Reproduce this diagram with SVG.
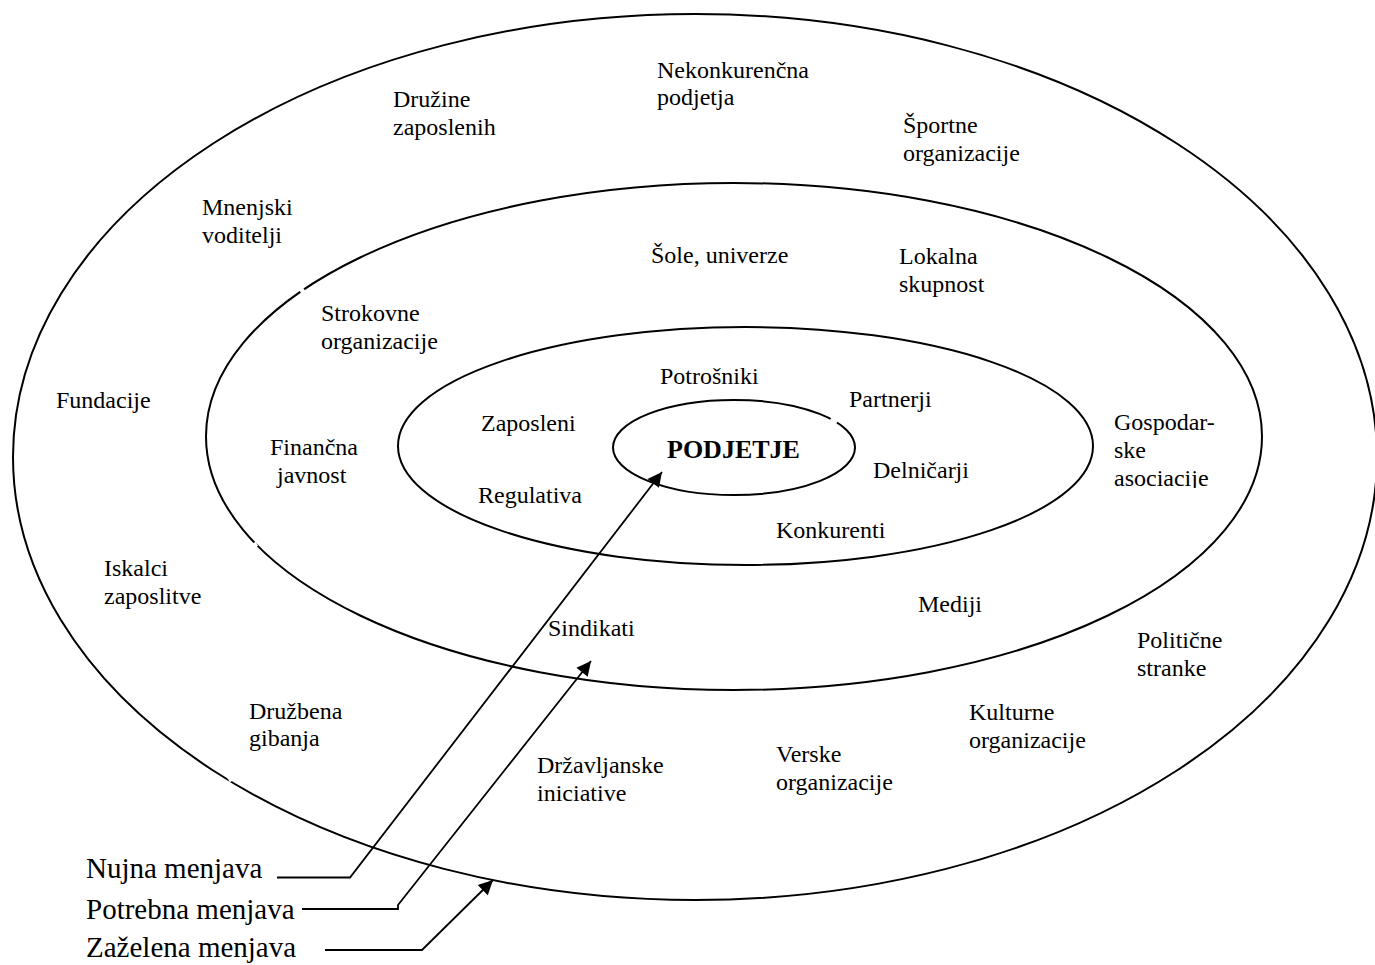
<svg xmlns="http://www.w3.org/2000/svg" width="1375" height="965" viewBox="0 0 1375 965">
<style>
.ring{fill:none;stroke:#000;stroke-width:2}
.lbl{font-family:"Liberation Serif","Times New Roman",serif;font-size:24px;fill:#000}
.leg{font-family:"Liberation Serif","Times New Roman",serif;font-size:29px;fill:#000}
.core{font-family:"Liberation Serif","Times New Roman",serif;font-size:26px;font-weight:bold;fill:#000}
.conn{fill:none;stroke:#000;stroke-width:1.8}
.gap{stroke:#fff;stroke-width:5;fill:none}
</style>
<defs>
<marker id="ah" viewBox="0 0 10 10" refX="10" refY="5" markerWidth="10" markerHeight="8" markerUnits="userSpaceOnUse" orient="auto" overflow="visible">
<path d="M0,0 L10,5 L0,10 z" fill="#000" transform="scale(1.8)" transform-origin="10 5"/>
</marker>
<clipPath id="clipAso" clipPathUnits="userSpaceOnUse"><rect x="1100" y="455" width="150" height="33"/></clipPath>
</defs>
<rect width="1375" height="965" fill="#fff"/>
<g id="ring-outer"><ellipse class="ring" cx="695" cy="457" rx="682" ry="443"/></g>
<g id="ring-middle"><ellipse class="ring" cx="734" cy="436.5" rx="528" ry="253.5"/></g>
<g id="ring-inner"><ellipse class="ring" cx="745.5" cy="446" rx="347.5" ry="119"/></g>
<g id="podjetje"><ellipse class="ring" cx="734" cy="447.5" rx="121" ry="47.5"/><text class="core" x="667" y="458">PODJETJE</text></g>
<g id="gaps">
<line class="gap" x1="229" y1="776" x2="232" y2="781"/>
<line class="gap" x1="300" y1="291.5" x2="303.5" y2="288.5"/>
<line class="gap" x1="253.5" y1="543" x2="256" y2="547"/>
<line class="gap" x1="447" y1="511.5" x2="456" y2="516.5"/>
<line class="gap" x1="831" y1="418.5" x2="837" y2="422.5"/>
</g>
<g id="labels">
<g id="n-druzine"><text class="lbl" x="393" y="107">Družine</text><text class="lbl" x="393" y="135">zaposlenih</text></g>
<g id="n-nekonk"><text class="lbl" x="657" y="78">Nekonkurenčna</text><text class="lbl" x="657" y="105">podjetja</text></g>
<g id="n-sport"><text class="lbl" x="903" y="133">Športne</text><text class="lbl" x="903" y="161">organizacije</text></g>
<g id="n-mnenj"><text class="lbl" x="202" y="215">Mnenjski</text><text class="lbl" x="202" y="243">voditelji</text></g>
<g id="n-sole"><text class="lbl" x="651" y="263">Šole, univerze</text></g>
<g id="n-lokal"><text class="lbl" x="899" y="264">Lokalna</text><text class="lbl" x="899" y="292">skupnost</text></g>
<g id="n-strok"><text class="lbl" x="321" y="321">Strokovne</text><text class="lbl" x="321" y="349">organizacije</text></g>
<g id="n-fund"><text class="lbl" x="56" y="408">Fundacije</text></g>
<g id="n-potr"><text class="lbl" x="660" y="384">Potrošniki</text></g>
<g id="n-part"><text class="lbl" x="849" y="407">Partnerji</text></g>
<g id="n-zap"><text class="lbl" x="481" y="431">Zaposleni</text></g>
<g id="n-gosp"><text class="lbl" x="1114" y="430">Gospodar-</text><text class="lbl" x="1114" y="458">ske</text><g clip-path="url(#clipAso)"><text class="lbl" x="1114" y="486">asociacije</text></g></g>
<g id="n-fin"><text class="lbl" x="270" y="455">Finančna</text><text class="lbl" x="277" y="483">javnost</text></g>
<g id="n-deln"><text class="lbl" x="873" y="478">Delničarji</text></g>
<g id="n-reg"><text class="lbl" x="478" y="503">Regulativa</text></g>
<g id="n-konk"><text class="lbl" x="776" y="538">Konkurenti</text></g>
<g id="n-iskal"><text class="lbl" x="104" y="576">Iskalci</text><text class="lbl" x="104" y="604">zaposlitve</text></g>
<g id="n-med"><text class="lbl" x="918" y="612">Mediji</text></g>
<g id="n-sind"><text class="lbl" x="548" y="636">Sindikati</text></g>
<g id="n-polit"><text class="lbl" x="1137" y="648">Politične</text><text class="lbl" x="1137" y="676">stranke</text></g>
<g id="n-druzb"><text class="lbl" x="249" y="719">Družbena</text><text class="lbl" x="249" y="746">gibanja</text></g>
<g id="n-kult"><text class="lbl" x="969" y="720">Kulturne</text><text class="lbl" x="969" y="748">organizacije</text></g>
<g id="n-versk"><text class="lbl" x="776" y="762">Verske</text><text class="lbl" x="776" y="790">organizacije</text></g>
<g id="n-drzav"><text class="lbl" x="537" y="773">Državljanske</text><text class="lbl" x="537" y="801">iniciative</text></g>
</g>
<g id="legend">
<text class="leg" x="86" y="878">Nujna menjava</text>
<text class="leg" x="86" y="919">Potrebna menjava</text>
<text class="leg" x="86" y="957">Zaželena menjava</text>
</g>
<g id="connectors">
<polyline class="conn" points="277,877.5 350,877.5 662,472" marker-end="url(#ah)"/>
<polyline class="conn" points="302,909 398,909 398,905 591,661" marker-end="url(#ah)"/>
<polyline class="conn" points="325,950 422,950 493,880" marker-end="url(#ah)"/>
</g>
</svg>
